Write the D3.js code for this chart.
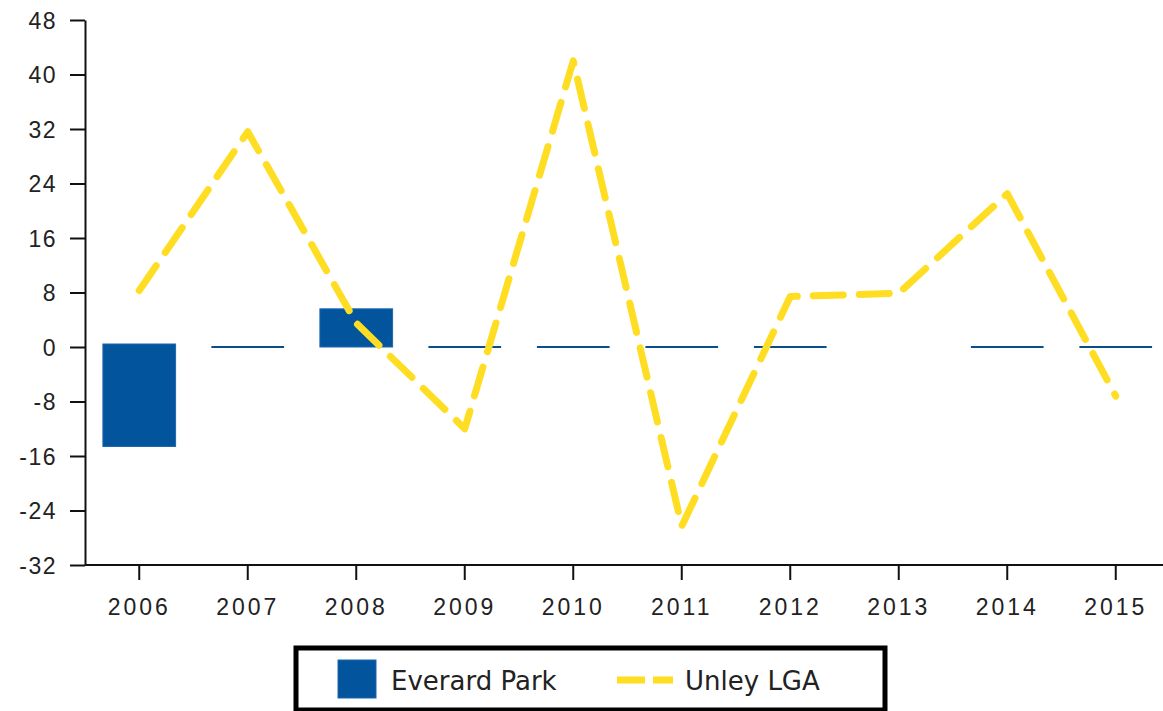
<!DOCTYPE html>
<html>
<head>
<meta charset="utf-8">
<script src="https://cdn.jsdelivr.net/npm/d3@7"></script>
<style>
  body { margin: 0; background: #fff; }
  svg { display: block; font-family: "DejaVu Sans", sans-serif; }
  .axis path, .axis line { stroke: #111; stroke-width: 2; }
</style>
</head>
<body>
<div id="chart"></div>
<script>
var years = ["2006", "2007", "2008", "2009", "2010", "2011", "2012", "2013", "2014", "2015"]
// bar series, null where nothing is drawn
var everardPark = [-14.6, 0, 5.6, 0, 0, 0, 0, null, 0, 0]
var unleyLGA = [8.3, 31.6, 3.5, -12, 42, -26.3, 7.4, 7.9, 22.5, -7.2]
var yTicks = [-32, -24, -16, -8, 0, 8, 16, 24, 32, 40, 48]
var seriesNames = ["Everard Park", "Unley LGA"]

var width = 1163, height = 711
var margin = { top: 20, right: -7, bottom: 146, left: 85 }

var svg = d3.select("#chart").append("svg")
  .attr("width", width)
  .attr("height", height)

var x = d3.scaleBand()
  .domain(years)
  .range([margin.left, width - margin.right])
  .paddingInner(0.33)
  .paddingOuter(0.165)

var y = d3.scaleLinear()
  .domain([-32, 48])
  .range([height - margin.bottom, margin.top])

// y axis
var yAxis = svg.append("g")
  .attr("class", "axis")
  .attr("transform", "translate(" + margin.left + ",0)")
  .call(d3.axisLeft(y).tickValues(yTicks).tickFormat(function (d) { return String(d) })
    .tickSize(15).tickPadding(13).tickSizeOuter(0))
yAxis.selectAll("text")
  .attr("dy", "0.36em")
  .style("font-size", "23px")
  .style("letter-spacing", "1.5px")
  .style("fill", "#222")

// x axis
var xAxis = svg.append("g")
  .attr("class", "axis")
  .attr("transform", "translate(0," + y(-32) + ")")
  .call(d3.axisBottom(x).tickSize(15).tickPadding(19).tickSizeOuter(0))
xAxis.select(".domain").attr("d", "M" + margin.left + ",0H" + width)
xAxis.selectAll("text")
  .style("font-size", "23px")
  .style("letter-spacing", "3px")
  .style("fill", "#222")

// bars
var bars = svg.append("g")
years.forEach(function (yr, i) {
  var v = everardPark[i]
  if (v === null) return
  var top = y(Math.max(0, v)), bottom = y(Math.min(0, v))
  if (v === 0) {
    bars.append("rect")
      .attr("x", x(yr))
      .attr("y", y(0) - 1)
      .attr("width", x.bandwidth())
      .attr("height", 2)
      .attr("fill", "#0b4f8a")
  } else {
    bars.append("rect")
      .attr("x", x(yr))
      .attr("y", top - (v < 0 ? 3 : 0))
      .attr("width", x.bandwidth())
      .attr("height", bottom - top + (v < 0 ? 3 : 0))
      .attr("fill", "#02559c")
      .attr("stroke", "#1b67b0")
      .attr("stroke-width", 1)
  }
})

// line
var line = d3.line()
  .x(function (d, i) { return x(years[i]) + x.bandwidth() / 2 })
  .y(function (d) { return y(d) })

svg.append("path")
  .datum(unleyLGA)
  .attr("d", line)
  .attr("fill", "none")
  .attr("stroke", "#ffdd22")
  .attr("stroke-width", 7)
  .attr("stroke-linecap", "round")
  .attr("stroke-linejoin", "round")
  .attr("stroke-dasharray", "30,16")

// legend
var legend = svg.append("g")
legend.append("rect")
  .attr("x", 296)
  .attr("y", 648)
  .attr("width", 589)
  .attr("height", 62)
  .attr("fill", "#fff")
  .attr("stroke", "#000")
  .attr("stroke-width", 5)

legend.append("rect")
  .attr("x", 338)
  .attr("y", 660)
  .attr("width", 38)
  .attr("height", 38)
  .attr("fill", "#02559c")
  .attr("stroke", "#1b67b0")

legend.append("text")
  .attr("x", 391)
  .attr("y", 690)
  .attr("font-size", 26)
  .attr("fill", "#222")
  .text(seriesNames[0])

legend.append("line")
  .attr("x1", 617)
  .attr("x2", 673)
  .attr("y1", 680)
  .attr("y2", 680)
  .attr("stroke", "#ffdd22")
  .attr("stroke-width", 7)
  .attr("stroke-dasharray", "28,8")

legend.append("text")
  .attr("x", 685)
  .attr("y", 690)
  .attr("font-size", 26)
  .attr("fill", "#222")
  .text(seriesNames[1])
</script>
</body>
</html>
